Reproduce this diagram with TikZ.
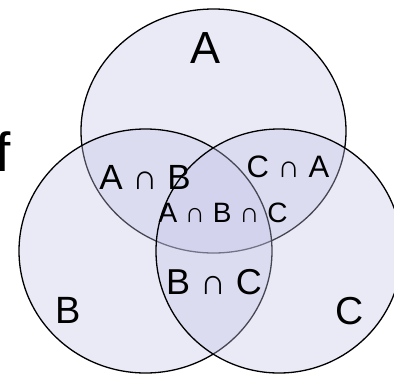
\documentclass[tikz,border=0pt]{standalone}
\usepackage{fontspec}
\setmainfont{Liberation Sans}
\definecolor{venn}{RGB}{196,196,232}
\tikzset{
  setshape/.style={draw=black, line width=1.3pt, fill=venn, fill opacity=0.36},
  lbl/.style={inner sep=0pt, text=black}
}
\begin{document}
\begin{tikzpicture}[x=1pt,y=-1pt]
\useasboundingbox (0,0) rectangle (394,373);
\begin{scope}
\clip (0,0) rectangle (394,373);
\draw[setshape] (213.5,131) ellipse [x radius=132.5, y radius=122];
\draw[setshape] (145.5,251) ellipse [x radius=126.5, y radius=122];
\draw[setshape] (279,251) ellipse [x radius=123, y radius=122];
\node[lbl, font=\fontsize{55}{60}\selectfont] (f) at (3,152) {f};
\end{scope}
\node[lbl, font=\fontsize{45}{50}\selectfont] (a) at (206,48) {A};
\node[lbl, font=\fontsize{38}{42}\selectfont] (b) at (68,310) {B};
\node[lbl, font=\fontsize{39}{44}\selectfont] (c) at (350,311) {C};
\node[lbl, font=\fontsize{35}{40}\selectfont] (ab) at (145,177) {A ∩ B};
\node[lbl, font=\fontsize{31}{36}\selectfont] (ca) at (288,167) {C ∩ A};
\node[lbl, font=\fontsize{28}{32}\selectfont] (abc) at (223,213) {A ∩ B ∩ C};
\node[lbl, font=\fontsize{36}{42}\selectfont] (bc) at (214,282) {B ∩ C};
\end{tikzpicture}
\end{document}
